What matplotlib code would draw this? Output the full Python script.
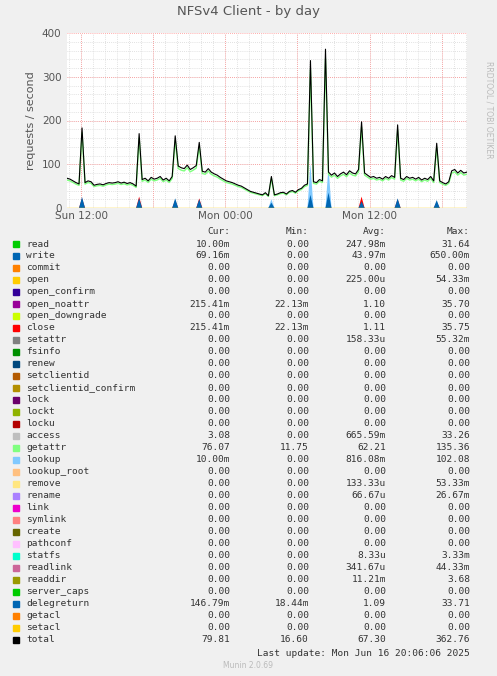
import matplotlib
matplotlib.use("Agg")
import matplotlib.pyplot as plt
import numpy as np

total = [68,66,62,58, 55,183,58,62, 60,52,54,55, 53,56,58,57, 58,60,57,59, 56,58,55,50,
         170,65,68,62, 70,66,68,72, 64,68,62,72, 165,96,92,90, 98,88,92,97, 150,84,82,90,
         82,78,75,70, 66,62,60,58, 55,52,50,46, 42,38,36,34, 32,30,35,28, 72,30,32,35,
         36,32,38,40, 36,42,45,52, 55,337,60,58, 65,62,363,82, 75,80,72,78, 82,76,85,80,
         78,88,197,80, 75,70,72,68, 70,66,72,68, 74,70,190,68, 65,72,68,70, 66,70,64,68,
         65,72,62,148, 62,58,55,60, 85,88,80,86, 80,82]
spike_hours = [1.25, 6.0, 9.0, 11.0, 17.0, 20.25, 21.75, 24.5, 27.5, 30.75]
write_spikes = [25, 22, 22, 20, 12, 30, 35, 15, 22, 18]
close_spikes = [22, 26, 18, 22, 5, 5, 5, 26, 20, 14]
lookup_spikes = [5, 5, 8, 5, 20, 100, 95, 8, 8, 10]

names = ["read","write","commit","open","open_confirm","open_noattr","open_downgrade","close",
 "setattr","fsinfo","renew","setclientid","setclientid_confirm","lock","lockt","locku","access",
 "getattr","lookup","lookup_root","remove","rename","link","symlink","create","pathconf","statfs",
 "readlink","readdir","server_caps","delegreturn","getacl","setacl","total"]
colors = ["#00CC00","#0066B3","#FF8000","#FFCC00","#330099","#990099","#CCFF00","#FF0000",
 "#808080","#008F00","#00487D","#B35A00","#B38F00","#6B006B","#8FB300","#B30000","#BEBEBE",
 "#80FF80","#80C9FF","#FFC080","#FFE680","#AA80FF","#EE00CC","#FF8080","#666600","#FFBFFF",
 "#00FFCC","#CC6699","#999900","#00CC00","#0066B3","#FF8000","#FFCC00","#000000"]
cur = ["10.00m","69.16m","0.00","0.00","0.00","215.41m","0.00","215.41m","0.00","0.00","0.00","0.00","0.00",
 "0.00","0.00","0.00","3.08","76.07","10.00m","0.00","0.00","0.00","0.00","0.00","0.00","0.00","0.00","0.00",
 "0.00","0.00","146.79m","0.00","0.00","79.81"]
mn = ["0.00","0.00","0.00","0.00","0.00","22.13m","0.00","22.13m","0.00","0.00","0.00","0.00","0.00",
 "0.00","0.00","0.00","0.00","11.75","0.00","0.00","0.00","0.00","0.00","0.00","0.00","0.00","0.00","0.00",
 "0.00","0.00","18.44m","0.00","0.00","16.60"]
avg = ["247.98m","43.97m","0.00","225.00u","0.00","1.10","0.00","1.11","158.33u","0.00","0.00","0.00","0.00",
 "0.00","0.00","0.00","665.59m","62.21","816.08m","0.00","133.33u","66.67u","0.00","0.00","0.00","0.00",
 "8.33u","341.67u","11.21m","0.00","1.09","0.00","0.00","67.30"]
mx = ["31.64","650.00m","0.00","54.33m","0.00","35.70","0.00","35.75","55.32m","0.00","0.00","0.00","0.00",
 "0.00","0.00","0.00","33.26","135.36","102.08","0.00","53.33m","26.67m","0.00","0.00","0.00","0.00",
 "3.33m","44.33m","3.68","0.00","33.71","0.00","0.00","362.76"]

W, H = 497, 676
fig = plt.figure(figsize=(W/100, H/100), dpi=100, facecolor="#F0F0F0")
ax = fig.add_axes([67/W, 1-208/H, 400/W, 175/H], facecolor="white")
t0 = -70/60.0  # hours relative to Sun 12:00
hrs = t0 + np.arange(len(total))*0.25
ax.set_xlim(t0, t0+33.27)
ax.set_ylim(0, 400)
for h in np.arange(-1, 33, 1):
    ax.axvline(h, color="#d8d8d8", lw=0.6, ls=(0,(1,1.5)), zorder=0)
for v in range(20, 400, 20):
    ax.axhline(v, color="#d8d8d8", lw=0.6, ls=(0,(1,1.5)), zorder=0)
for h in [0, 6, 12, 18, 24, 30]:
    ax.axvline(h, color="#ff9090", lw=0.6, ls=(0,(1,1.5)), zorder=0)
for v in [100, 200, 300, 400]:
    ax.axhline(v, color="#ff9090", lw=0.6, ls=(0,(1,1.5)), zorder=0)

def spikes(vals, color):
    for h, v in zip(spike_hours, vals):
        hh = t0 + h
        ax.fill([hh-0.25, hh, hh+0.25], [0, v, 0], color=color, lw=0, zorder=2)
spikes(lookup_spikes, "#80C9FF")
spikes(close_spikes, "#FF0000")
spikes(write_spikes, "#0066B3")
ax.axhline(0.8, color="#FFCC00", lw=1, zorder=2)
ax.plot(hrs, [v*0.94 for v in total], color="#80FF80", lw=1, zorder=3)
ax.plot(hrs, total, color="black", lw=0.8, zorder=4)

ax.set_xticks([0, 12, 24])
ax.set_xticklabels(["Sun 12:00", "Mon 00:00", "Mon 12:00"])
ax.set_yticks([0, 100, 200, 300, 400])
ax.tick_params(labelsize=7.5, colors="#555555", length=0, pad=2)
ax.tick_params(axis="y", pad=4)
for s in ax.spines.values():
    s.set_visible(False)
ax.set_ylabel("requests / second", fontsize=8, color="#555555")
fig.text(0.5, 1-11/H, "NFSv4 Client - by day", ha="center", va="center", fontsize=9.5, color="#555555")
fig.text(489/W, 1-110/H, "RRDTOOL / TOBI OETIKER", rotation=270, ha="center", va="center",
         fontsize=5.5, color="#bbbbbb")

fm = dict(family="DejaVu Sans Mono", fontsize=6.8, color="#333333", va="center")
y0 = 232
fig.text(230/W, 1-y0/H, "Cur:", ha="right", **fm)
fig.text(309/W, 1-y0/H, "Min:", ha="right", **fm)
fig.text(386/W, 1-y0/H, "Avg:", ha="right", **fm)
fig.text(470/W, 1-y0/H, "Max:", ha="right", **fm)
for i, n in enumerate(names):
    y = 244 + i*12
    fig.patches.append(plt.Rectangle((13/W, 1-(y+3)/H), 6/W, 6/H, transform=fig.transFigure,
                                     color=colors[i]))
    fig.text(26/W, 1-y/H, n, ha="left", **fm)
    fig.text(230/W, 1-y/H, cur[i], ha="right", **fm)
    fig.text(309/W, 1-y/H, mn[i], ha="right", **fm)
    fig.text(386/W, 1-y/H, avg[i], ha="right", **fm)
    fig.text(470/W, 1-y/H, mx[i], ha="right", **fm)
fig.text(470/W, 1-653/H, "Last update: Mon Jun 16 20:06:06 2025", ha="right", **fm)
fig.text(248/W, 1-665/H, "Munin 2.0.69", ha="center", va="center", fontsize=5.5, color="#bbbbbb")
fig.savefig("out.png", dpi=100, facecolor=fig.get_facecolor())
